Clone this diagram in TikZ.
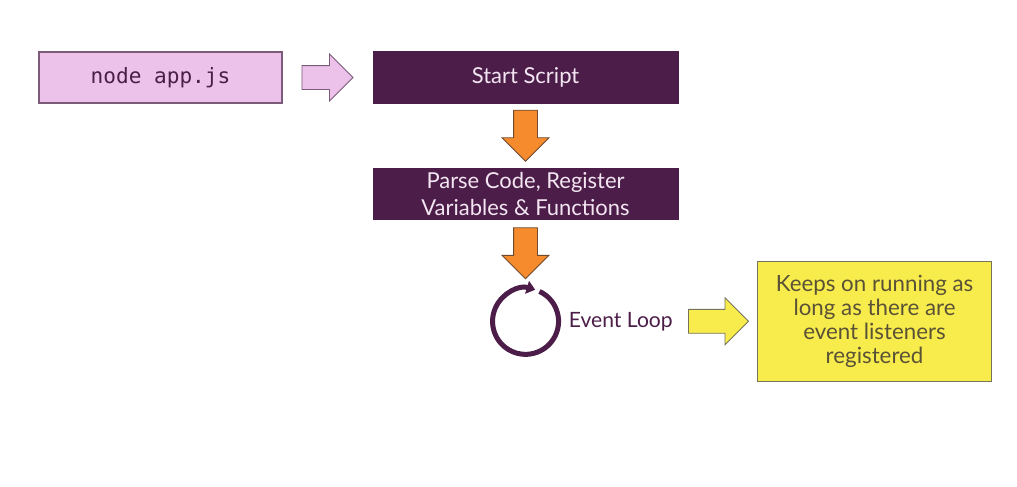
\documentclass[tikz,border=0pt]{standalone}
\usepackage{fontspec}
\setmainfont{Lato}
\setsansfont{Lato}
\setmonofont{DejaVu Sans Mono}
\usetikzlibrary{positioning,arrows.meta,shapes.arrows,calc}
\definecolor{nlPink}{HTML}{EDC2EA}
\definecolor{nlPinkD}{HTML}{7B5B79}
\definecolor{nlPlum}{HTML}{4B1D48}
\definecolor{nlPlumT}{HTML}{F3E6F2}
\definecolor{nlOrange}{HTML}{F68B2E}
\definecolor{nlOrangeD}{HTML}{6E4A2E}
\definecolor{nlYellow}{HTML}{F8EC4C}
\definecolor{nlYellowD}{HTML}{77745A}
\definecolor{nlText}{HTML}{5A5236}
\tikzset{
  nl-box/.style={
    draw, line width=0.6pt, inner sep=0pt, align=center,
    font=\fontsize{12.5}{15}\selectfont
  },
  nl-cmd/.style={nl-box, draw=nlPinkD, fill=nlPink, text=nlPlum,
    font=\ttfamily\fontsize{12}{14}\selectfont,
    minimum width=4.86cm, minimum height=1.02cm},
  nl-step/.style={nl-box, draw=nlPlum, fill=nlPlum, text=nlPlumT,
    minimum width=6.1cm, minimum height=1.03cm},
  nl-note/.style={nl-box, draw=nlYellowD, fill=nlYellow, text=nlText,
    minimum width=4.68cm, minimum height=2.4cm,
    font=\fontsize{12.7}{13.8}\selectfont},
  nl-arrow/.style={single arrow, draw, line width=0.5pt,
    inner sep=0.23cm, minimum width=0.92cm,
    single arrow head extend=0.23cm, minimum height=1.02cm},
  nl-pink/.style={nl-arrow, draw=nlPinkD, fill=nlPink},
  nl-orange/.style={nl-arrow, draw=nlOrangeD, fill=nlOrange,
    shape border rotate=270},
  nl-yellow/.style={nl-arrow, draw=nlYellowD, fill=nlYellow,
    minimum height=1.2cm},
  nl-loop/.style={draw=nlPlum, line width=0.1cm,
    -{Triangle[length=0.17cm, width=0.26cm]}},
  nl-label/.style={text=nlPlum, inner sep=0pt,
    font=\fontsize{12}{15}\selectfont}
}
\begin{document}
\begin{tikzpicture}
\useasboundingbox (0,0) rectangle (20.34,-9.72);
% boxes
\node[nl-cmd] (app) at (3.21,-1.55) {node app.js};
\node[nl-step, right=1.8cm of app] (start) {Start Script};
\node[nl-step, below=1.28cm of start] (parse)
  {Parse Code, Register\\ Variables \& Functions};

% event loop
\node[circle, minimum size=1.32cm, inner sep=0pt, outer sep=0pt,
  below=1.36cm of parse] (loop) {};
\draw[nl-loop] (loop.65) arc[start angle=65, end angle=-287, radius=0.66cm];
\node[nl-label, right=0.2cm of loop] (evt) {Event Loop};
\node[nl-note, right=1.68cm of evt] (keeps)
  {Keeps on running as\\ long as there are\\ event listeners\\ registered};

% block arrows
\node[nl-pink, right=0.38cm of app, anchor=tail] (a1) {};
\node[nl-orange, below=0.12cm of start, anchor=tail] (a2) {};
\node[nl-orange, below=0.14cm of parse, anchor=tail] (a3) {};
\node[nl-yellow, right=0.3cm of evt, anchor=tail] (a4) {};
\end{tikzpicture}
\end{document}
